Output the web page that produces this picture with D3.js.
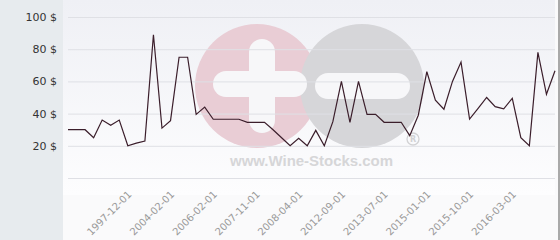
<!DOCTYPE html>
<html>
<head>
<meta charset="utf-8">
<script src="https://cdn.jsdelivr.net/npm/d3@7"></script>
<style>
  body { margin: 0; background: #fafafb; }
  svg { display: block; font-family: "DejaVu Sans", Verdana, sans-serif; }
</style>
</head>
<body>
<svg id="chart" width="560" height="240"></svg>
<script>
// prices, one per point
var prices = [30, 30, 30, 25, 36, 32.7, 36, 20, 21.7, 23,
  89, 31, 35.6, 75, 75, 39.5, 44, 36.5, 36.5, 36.5,
  36.5, 34.6, 34.6, 34.6, 30, 25, 20, 24.6, 20, 29.6,
  20, 35, 60, 34.6, 60, 39.5, 39.5, 34.6, 34.6, 34.6,
  26.3, 39, 66, 48.4, 42.7, 60, 72, 36.6, 43.3, 50,
  44.3, 42.9, 49.5, 25, 20, 78, 52, 66.6];

// labelled points (index into prices) and their dates
var tickIndex = [7, 12, 17, 22, 27, 32, 37, 42, 47, 52];
var tickLabels = ["1997-12-01", "2004-02-01", "2006-02-01", "2007-11-01", "2008-04-01",
  "2012-09-01", "2013-07-01", "2015-01-01", "2015-10-01", "2016-03-01"];
var yTicks = [20, 40, 60, 80, 100];
var gridTicks = [0, 20, 40, 60, 80, 100];

var svg = d3.select("#chart");
var width = 560, height = 240;
var margin = {left: 68, right: 5, top: 17, bottom: 62};

var x = d3.scalePoint()
  .domain(d3.range(prices.length))
  .range([margin.left, width - margin.right]);
var y = d3.scaleLinear()
  .domain([0, 100])
  .range([height - margin.bottom, margin.top]);

// backgrounds
var defs = svg.append("defs");
var grad = defs.append("linearGradient").attr("id", "bg").attr("x1", 0).attr("y1", 0).attr("x2", 0).attr("y2", 1);
grad.append("stop").attr("offset", "0%").attr("stop-color", "#eff0f5");
grad.append("stop").attr("offset", "100%").attr("stop-color", "#fdfdfe");

svg.append("rect").attr("x", 63).attr("y", 0).attr("width", 492).attr("height", 195).attr("fill", "url(#bg)");
svg.append("rect").attr("x", 0).attr("y", 0).attr("width", 63).attr("height", height).attr("fill", "#e7ebee");
svg.append("rect").attr("x", 558).attr("y", 0).attr("width", 2).attr("height", height).attr("fill", "#a9a9a9");

// watermark
var wm = svg.append("g");
wm.append("circle").attr("cx", 257).attr("cy", 86).attr("r", 62).attr("fill", "#e9cdd5");
wm.append("circle").attr("cx", 362).attr("cy", 86).attr("r", 62).attr("fill", "#d6d6d9");
wm.append("rect").attr("x", 213).attr("y", 71).attr("width", 94).attr("height", 26).attr("rx", 13).attr("fill", "#f7f7f9");
wm.append("rect").attr("x", 249).attr("y", 39).attr("width", 26).attr("height", 94).attr("rx", 13).attr("fill", "#f7f7f9");
wm.append("rect").attr("x", 315).attr("y", 73).attr("width", 95).attr("height", 26).attr("rx", 13).attr("fill", "#f7f7f9");
wm.append("text").attr("x", 230).attr("y", 166).attr("textLength", 163)
  .attr("font-family", "Liberation Sans, Arial, sans-serif").attr("font-weight", "bold")
  .attr("font-size", 15).attr("fill", "#d6d6d8").text("www.Wine-Stocks.com");
wm.append("circle").attr("cx", 413).attr("cy", 139).attr("r", 6).attr("fill", "none")
  .attr("stroke", "#d2d2d4").attr("stroke-width", 1.3);
wm.append("text").attr("x", 413).attr("y", 142).attr("text-anchor", "middle")
  .attr("font-size", 8).attr("font-weight", "bold").attr("fill", "#d2d2d4").text("R");

// grid
svg.append("g").selectAll("line")
  .data(gridTicks).enter().append("line")
  .attr("x1", margin.left).attr("x2", width - margin.right)
  .attr("y1", function(d) { return y(d) + 0.5; })
  .attr("y2", function(d) { return y(d) + 0.5; })
  .attr("stroke", "#dfe0e5").attr("stroke-width", 1);

// y axis
var yAxis = svg.append("g")
  .attr("transform", "translate(60,0)")
  .call(d3.axisLeft(y).tickValues(yTicks).tickSize(0).tickFormat(function(d) { return d + " $"; }));
yAxis.select(".domain").remove();
yAxis.selectAll("text").attr("font-size", 11).attr("fill", "#333").attr("font-family", "DejaVu Sans");

// x axis
var xAxis = svg.append("g")
  .attr("transform", "translate(0," + y(0) + ")")
  .call(d3.axisBottom(x).tickValues(tickIndex).tickSize(0)
    .tickFormat(function(d, i) { return tickLabels[i]; }));
xAxis.select(".domain").remove();
xAxis.selectAll("text")
  .attr("font-size", 10).attr("fill", "#999").attr("font-family", "DejaVu Sans")
  .attr("text-anchor", "end").attr("dy", null).attr("y", 0)
  .attr("transform", "translate(4,17) rotate(-45)");

// price line
svg.append("path")
  .datum(prices)
  .attr("fill", "none")
  .attr("stroke", "#3b1e2b")
  .attr("stroke-width", 1.2)
  .attr("d", d3.line().x(function(d, i) { return x(i); }).y(function(d) { return y(d); }));
</script>
</body>
</html>
